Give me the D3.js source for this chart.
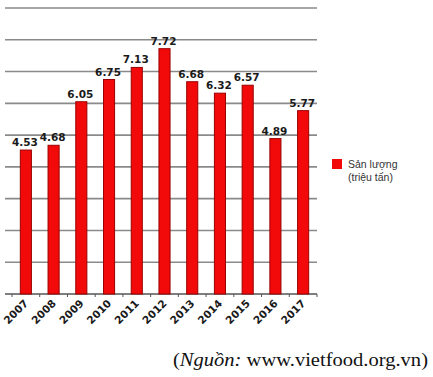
<!DOCTYPE html>
<html lang="vi">
<head>
<meta charset="UTF-8">
<title>Sản lượng</title>
<script src="https://cdnjs.cloudflare.com/ajax/libs/d3/7.8.5/d3.min.js"></script>
<style>
    body { margin: 0; background: #fff; }
    svg { display: block; }
</style>
</head>
<body>
<svg width="433" height="377"></svg>
<script>
    const years = ["2007", "2008", "2009", "2010", "2011", "2012", "2013", "2014", "2015", "2016", "2017"];
    const output = [4.53, 4.68, 6.05, 6.75, 7.13, 7.72, 6.68, 6.32, 6.57, 4.89, 5.77];
    const gridValues = [0, 1, 2, 3, 4, 5, 6, 7, 8, 9];
    const legendLines = ["Sản lượng", "(triệu tấn)"];

    const svg = d3.select("svg");

    const x = d3.scaleBand()
        .domain(years)
        .range([12, 317])
        .paddingInner(0.6)
        .paddingOuter(0.3);

    const y = d3.scaleLinear()
        .domain([0, 9])
        .range([294, 8]);

    // grid lines
    svg.append("g")
        .selectAll("line")
        .data(gridValues)
        .enter()
        .append("line")
        .attr("x1", 5)
        .attr("x2", 317)
        .attr("y1", d => y(d))
        .attr("y2", d => y(d))
        .attr("stroke", d => d === 0 ? "#555" : "#8a8a8a")
        .attr("stroke-width", 1.6);

    // small ticks on baseline between bands
    const gap = (x.step() - x.bandwidth()) / 2;
    const tickX = years.map(d => x(d) - gap).concat([x(years[years.length - 1]) + x.bandwidth() + gap]);
    svg.append("g")
        .selectAll("line")
        .data(tickX)
        .enter()
        .append("line")
        .attr("x1", d => d)
        .attr("x2", d => d)
        .attr("y1", y(0))
        .attr("y2", y(0) + 3)
        .attr("stroke", "#555")
        .attr("stroke-width", 1);

    // bars
    svg.append("g")
        .selectAll("rect")
        .data(output)
        .enter()
        .append("rect")
        .attr("x", (d, i) => x(years[i]))
        .attr("y", d => y(d))
        .attr("width", x.bandwidth())
        .attr("height", d => y(0) - y(d))
        .attr("fill", "#f20a0a")
        .attr("stroke", "#9a0000")
        .attr("stroke-width", 1);

    // value labels
    svg.append("g")
        .selectAll("text")
        .data(output)
        .enter()
        .append("text")
        .attr("x", (d, i) => x(years[i]) + x.bandwidth() / 2 - 1)
        .attr("y", d => y(d) - 4)
        .attr("text-anchor", "middle")
        .attr("font-family", "DejaVu Sans")
        .attr("font-weight", "bold")
        .attr("font-size", "10.5px")
        .attr("fill", "#1a1a1a")
        .text(d => d.toFixed(2));

    // year labels
    svg.append("g")
        .selectAll("text")
        .data(years)
        .enter()
        .append("text")
        .attr("transform", d => `translate(${x(d) + x.bandwidth() / 2 + 3},${y(0) + 10}) rotate(-45)`)
        .attr("text-anchor", "end")
        .attr("font-family", "DejaVu Sans")
        .attr("font-weight", "bold")
        .attr("font-size", "10.5px")
        .attr("fill", "#1a1a1a")
        .text(d => d);

    // legend
    svg.append("rect")
        .attr("x", 332)
        .attr("y", 159)
        .attr("width", 10)
        .attr("height", 10)
        .attr("fill", "#f20a0a");

    svg.append("g")
        .selectAll("text")
        .data(legendLines)
        .enter()
        .append("text")
        .attr("x", 348)
        .attr("y", (d, i) => 168 + i * 13)
        .attr("font-family", "Liberation Sans")
        .attr("font-size", "10.5px")
        .attr("fill", "#333")
        .text(d => d);

    // source
    const src = svg.append("text")
        .attr("x", 173)
        .attr("y", 366)
        .attr("textLength", 255)
        .attr("lengthAdjust", "spacingAndGlyphs")
        .attr("font-family", "Liberation Serif")
        .attr("font-size", "18.5px")
        .attr("fill", "#111");
    src.append("tspan").text("(");
    src.append("tspan").attr("font-style", "italic").text("Nguồn:");
    src.append("tspan").text(" www.vietfood.org.vn)");
</script>
</body>
</html>
